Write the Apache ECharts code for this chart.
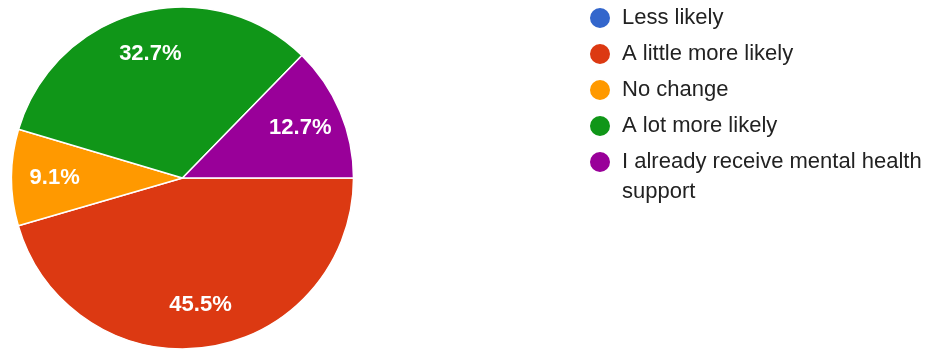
<!DOCTYPE html>
<html>
<head>
<meta charset="utf-8">
<script src="https://cdn.jsdelivr.net/npm/echarts@6/dist/echarts.min.js"></script>
<style>
html,body{margin:0;padding:0;background:#fff;}
#chart{width:938px;height:350px;}
</style>
</head>
<body>
<div id="chart"></div>
<script>
const categories = ['Less likely', 'A little more likely', 'No change', 'A lot more likely', 'I already receive mental health support'];
const percentValues = [0, 45.5, 9.1, 32.7, 12.7];
const sliceColors = ['#3366cc', '#dc3912', '#ff9900', '#109618', '#990099'];

const pieData = categories.map((name, i) => ({ name: name, value: percentValues[i] }));
const R = 171;
const CENTER = [182.5, 178];

const chart = echarts.init(document.getElementById('chart'), null, { renderer: 'canvas' });
chart.setOption({
  animation: false,
  color: sliceColors,
  legend: [
    {
      orient: 'vertical',
      left: 588,
      top: 6,
      padding: 0,
      icon: 'circle',
      itemWidth: 22,
      itemHeight: 22,
      itemGap: 12,
      selectedMode: false,
      data: categories.slice(0, 4),
      textStyle: { fontFamily: 'Liberation Sans, Arial, sans-serif', fontSize: 22, lineHeight: 22, color: '#222', padding: [0, 0, 0, 6] }
    },
    {
      orient: 'vertical',
      left: 588,
      top: 117,
      padding: 0,
      icon: 'circle',
      itemWidth: 22,
      itemHeight: 22,
      selectedMode: false,
      data: categories.slice(4),
      formatter: function (name) { return '\n' + name.replace(' support', '\nsupport'); },
      textStyle: { fontFamily: 'Liberation Sans, Arial, sans-serif', fontSize: 22, lineHeight: 30, color: '#222', padding: [0, 0, 0, 6] }
    }
  ],
  series: [
    {
      type: 'pie',
      center: CENTER,
      radius: [0, R],
      startAngle: 0,
      clockwise: true,
      silent: true,
      data: pieData,
      label: { show: false },
      labelLine: { show: false },
      itemStyle: { borderColor: '#fff', borderWidth: 1.5 },
      emphasis: { disabled: true }
    },
    {
      type: 'pie',
      center: CENTER,
      radius: [R * 0.46, R],
      startAngle: 0,
      clockwise: true,
      silent: true,
      data: pieData,
      itemStyle: { color: 'rgba(0,0,0,0)', borderWidth: 0 },
      label: {
        show: true,
        position: 'inside',
        color: '#fff',
        fontFamily: 'Liberation Sans, Arial, sans-serif',
        fontWeight: 'bold',
        fontSize: 22,
        formatter: function (p) { return p.value > 0 ? p.value.toFixed(1) + '%' : ''; }
      },
      labelLine: { show: false },
      emphasis: { disabled: true }
    }
  ]
});
</script>
</body>
</html>
